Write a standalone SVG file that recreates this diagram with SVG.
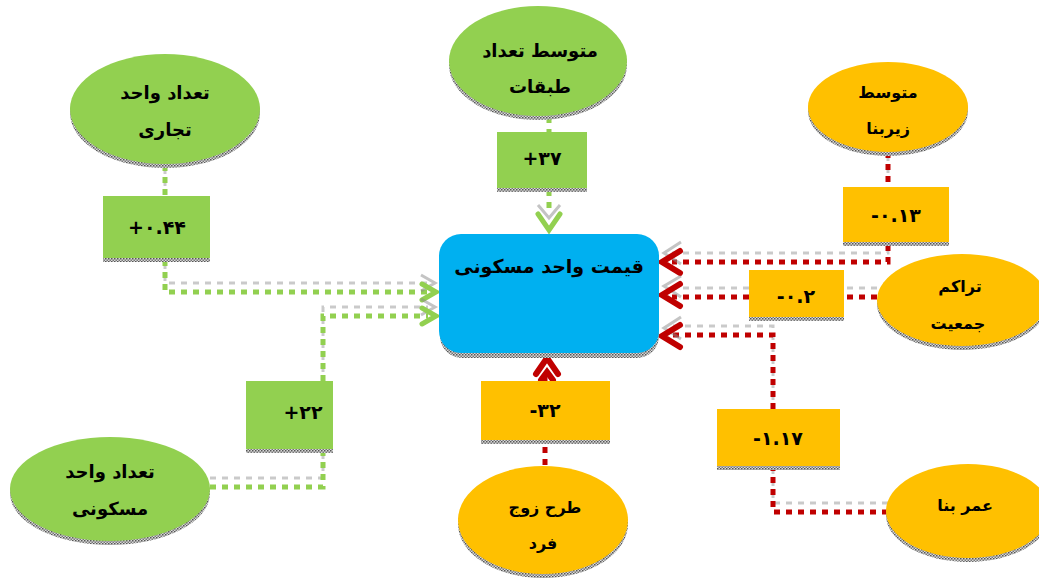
<svg xmlns="http://www.w3.org/2000/svg" width="1039" height="578" viewBox="0 0 1039 578">
<style>
  text{font-family:"DejaVu Sans","Noto Sans",sans-serif;font-weight:bold;fill:#000;text-anchor:middle;dominant-baseline:central}
  .lbl{font-size:18px}
  .sm{font-size:16px}
  .num{font-size:19px}
  .green{fill:#92D050}
  .orange{fill:#FFC000}
  .shadow{fill:url(#hatch)}
  .cg{fill:none;stroke:#92D050;stroke-width:5;stroke-dasharray:6 6}
  .cr{fill:none;stroke:#C00000;stroke-width:5;stroke-dasharray:6 6}
  .cs{fill:none;stroke:#8a8a8a;stroke-width:3;stroke-dasharray:6 6;opacity:.45}
  .ag{fill:none;stroke:#92D050;stroke-width:5;stroke-linecap:round;stroke-linejoin:miter}
  .ar{fill:none;stroke:#C00000;stroke-width:6;stroke-linecap:round;stroke-linejoin:miter}
  .as{fill:none;stroke:#8a8a8a;stroke-width:3;opacity:.5}
</style>
<defs>
  <pattern id="hatch" width="3" height="3" patternUnits="userSpaceOnUse">
    <rect width="3" height="3" fill="#d8d8d8"/>
    <rect width="1.5" height="1.5" fill="#555"/>
    <rect x="1.5" y="1.5" width="1.5" height="1.5" fill="#777"/>
  </pattern>
  <path id="pg1" d="M165,165 V196 M165,260 V292 H428"/>
  <path id="pg2" d="M210,487 H323 V452 M323,381 V316 H428"/>
  <path id="pg3" d="M549,117 V132 M549,190 V214"/>
  <path id="pr1" d="M888,152 V187 M888,245 V262 H672"/>
  <path id="pr2" d="M877,297 H844 M749,297 H672"/>
  <path id="pr3" d="M888,512 H773 V468 M773,409 V335 H672"/>
  <path id="pr4" d="M545,465 V443 M545,381 V370"/>
</defs>

<g id="connectors">
  <g transform="translate(0,-9)">
    <use href="#pg1" class="cs"/><use href="#pg2" class="cs"/>
    <use href="#pr1" class="cs"/><use href="#pr2" class="cs"/><use href="#pr3" class="cs"/>
  </g>
  <use href="#pg1" class="cg"/>
  <use href="#pg2" class="cg"/>
  <use href="#pg3" class="cg"/>
  <use href="#pr1" class="cr"/>
  <use href="#pr2" class="cr"/>
  <use href="#pr3" class="cr"/>
  <use href="#pr4" class="cr"/>
  <polyline class="as" points="421,275 435,283 421,291"/>
  <polyline class="ag" points="422,284 436,292 422,300"/>
  <polyline class="as" points="421,299 435,307 421,315"/>
  <polyline class="ag" points="422,308 436,316 422,324"/>
  <polyline class="as" points="538,205 549,218 560,205"/>
  <polyline class="ag" points="538,214 549,230 560,214"/>
  <polyline class="as" points="681,242 664,253 681,264"/>
  <polyline class="ar" points="680,251 662,262 680,273"/>
  <polyline class="as" points="681,276 664,286 681,297"/>
  <polyline class="ar" points="680,284 662,295 680,306"/>
  <polyline class="as" points="681,317 664,328 681,339"/>
  <polyline class="ar" points="680,325 662,336 680,347"/>
  <polyline class="ar" points="536,374 547,358 558,374"/>
  <polyline class="ar" points="541,380 547,372 553,380"/>
</g>

<g id="main">
  <rect x="440" y="238" width="219" height="120" rx="22" class="shadow"/>
  <rect x="439" y="234" width="220" height="119" rx="22" fill="#00B0F0"/>
  <text x="549" y="266" style="font-size:19px">قیمت واحد مسکونی</text>
</g>

<g id="n-tejari">
  <ellipse cx="165" cy="113" rx="95" ry="55" class="shadow"/>
  <ellipse cx="165" cy="109" rx="95" ry="55" class="green"/>
  <text x="165" y="92" class="lbl">تعداد واحد</text>
  <text x="165" y="129" class="lbl">تجاری</text>
</g>
<g id="b-tejari">
  <rect x="103" y="196" width="107" height="64" class="green"/>
  <rect x="103" y="258" width="107" height="4" class="shadow"/>
  <text x="157" y="227" class="num">+۰.۴۴</text>
</g>

<g id="n-tabaghat">
  <ellipse cx="538" cy="65" rx="89" ry="55" class="shadow"/>
  <ellipse cx="538" cy="61" rx="89" ry="55" class="green"/>
  <text x="540" y="50" class="lbl">متوسط تعداد</text>
  <text x="540" y="86" class="lbl">طبقات</text>
</g>
<g id="b-tabaghat">
  <rect x="497" y="132" width="90" height="58" class="green"/>
  <rect x="497" y="188" width="90" height="4" class="shadow"/>
  <text x="542" y="158" class="num">+۳۷</text>
</g>

<g id="n-zirbana">
  <ellipse cx="888" cy="111" rx="80" ry="45" class="shadow"/>
  <ellipse cx="888" cy="107" rx="80" ry="45" class="orange"/>
  <text x="888" y="92" class="sm">متوسط</text>
  <text x="888" y="128" class="sm">زیربنا</text>
</g>
<g id="b-zirbana">
  <rect x="843" y="187" width="106" height="56" class="orange"/>
  <rect x="843" y="242" width="106" height="4" class="shadow"/>
  <text x="896" y="215" class="num">-۰.۱۳</text>
</g>

<g id="n-tarakom">
  <ellipse cx="962" cy="304" rx="85" ry="46" class="shadow"/>
  <ellipse cx="962" cy="300" rx="85" ry="46" class="orange"/>
  <text x="960" y="286" class="sm">تراکم</text>
  <text x="958" y="323" class="sm">جمعیت</text>
</g>
<g id="b-tarakom">
  <rect x="749" y="270" width="95" height="48" class="orange"/>
  <rect x="749" y="317" width="95" height="4" class="shadow"/>
  <text x="796" y="296" class="num">-۰.۲</text>
</g>

<g id="n-omr">
  <ellipse cx="968" cy="515" rx="82" ry="47" class="shadow"/>
  <ellipse cx="968" cy="511" rx="82" ry="47" class="orange"/>
  <text x="965" y="505" class="sm">عمر بنا</text>
</g>
<g id="b-omr">
  <rect x="717" y="409" width="123" height="58" class="orange"/>
  <rect x="717" y="466" width="123" height="4" class="shadow"/>
  <text x="778" y="438" class="num">-۱.۱۷</text>
</g>

<g id="n-zojfard">
  <ellipse cx="543" cy="524" rx="85" ry="54" class="shadow"/>
  <ellipse cx="543" cy="520" rx="85" ry="54" class="orange"/>
  <text x="545" y="507" class="sm">طرح زوج</text>
  <text x="543" y="543" class="sm">فرد</text>
</g>
<g id="b-zojfard">
  <rect x="481" y="381" width="129" height="60" class="orange"/>
  <rect x="481" y="440" width="129" height="4" class="shadow"/>
  <text x="545" y="410" class="num">-۳۲</text>
</g>

<g id="n-maskoni">
  <ellipse cx="110" cy="493" rx="100" ry="52" class="shadow"/>
  <ellipse cx="110" cy="489" rx="100" ry="52" class="green"/>
  <text x="110" y="471" class="lbl">تعداد واحد</text>
  <text x="110" y="508" class="lbl">مسکونی</text>
</g>
<g id="b-maskoni">
  <rect x="246" y="381" width="87" height="69" class="green"/>
  <rect x="246" y="449" width="87" height="4" class="shadow"/>
  <text x="303" y="412" class="num">+۲۲</text>
</g>
</svg>
